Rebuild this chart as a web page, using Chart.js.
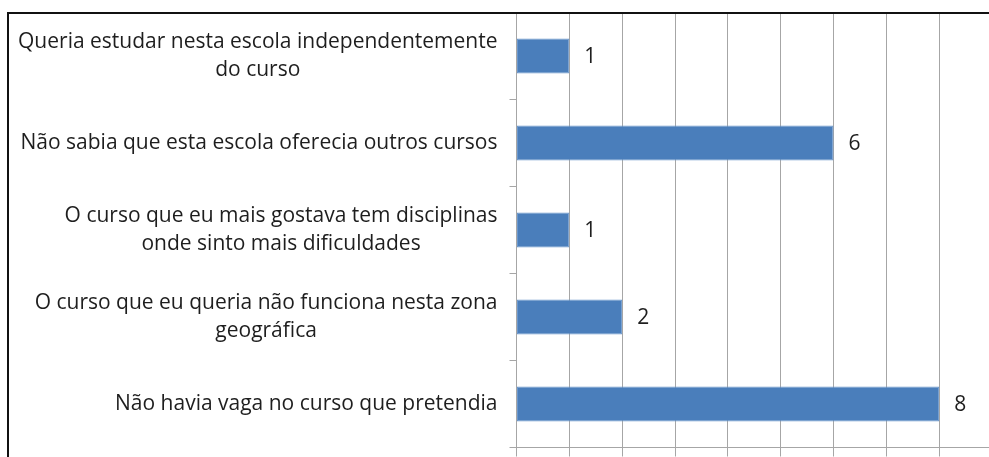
<!DOCTYPE html>
<html>
<head>
<meta charset="utf-8">
<script src="https://cdn.jsdelivr.net/npm/chart.js@4/dist/chart.umd.min.js"></script>
<style>
  html, body { margin: 0; padding: 0; background: #fff; overflow: hidden; }
  #wrap { position: relative; width: 989px; height: 457px; overflow: hidden; }
  #c { position: absolute; left: 0; top: 0; }
  #frame { position: absolute; left: 7px; top: 12px; width: 1100px; height: 600px;
           border-top: 2px solid #111; border-left: 2px solid #111; pointer-events: none; }
</style>
</head>
<body>
<div id="wrap">
  <canvas id="c" width="1000" height="470"></canvas>
  <div id="frame"></div>
</div>
<script>
// ---- data ----
const categories = [
  ["Queria estudar nesta escola independentemente", "do curso"],
  ["Não sabia que esta escola oferecia outros cursos"],
  ["O curso que eu mais gostava tem disciplinas", "onde sinto mais dificuldades"],
  ["O curso que eu queria não funciona nesta zona", "geográfica"],
  ["Não havia vaga no curso que pretendia"]
];
const values = [1, 6, 1, 2, 8];
const xMin = 0;
const xMax = 9;
const xStep = 1;

const FONT = '21px "Open Sans", Lato, sans-serif';
const TEXT = '#1e1e1e';
const GRID = '#a6a6a6';

const labelsPlugin = {
  id: 'customLabels',
  afterDraw(chart) {
    const ctx = chart.ctx;
    const yScale = chart.scales.y;
    const meta = chart.getDatasetMeta(0);
    ctx.save();
    ctx.font = FONT;
    ctx.fillStyle = TEXT;
    ctx.textBaseline = 'middle';
    // category labels: widest line right-aligned, other lines centred on it
    const rightEdge = yScale.left - 12;
    categories.forEach((lines, i) => {
      const cy = yScale.getPixelForTick(i);
      const lh = 28;
      const widths = lines.map(l => ctx.measureText(l).width);
      const widest = Math.max(...widths);
      const centre = rightEdge - widest / 2;
      ctx.textAlign = 'center';
      lines.forEach((l, k) => {
        const y = cy + (k - (lines.length - 1) / 2) * lh;
        ctx.fillText(l, centre, y);
      });
    });
    // value labels
    ctx.textAlign = 'left';
    meta.data.forEach((bar, i) => {
      ctx.fillText(String(values[i]), bar.x + 15, bar.y + 1);
    });
    ctx.restore();
  }
};

new Chart(document.getElementById('c'), {
  type: 'bar',
  data: {
    labels: categories,
    datasets: [{
      data: values,
      backgroundColor: '#4a7ebb',
      borderColor: '#6b97cc',
      borderWidth: 1,
      borderSkipped: false,
      barPercentage: 0.4,
      categoryPercentage: 1.0
    }]
  },
  options: {
    indexAxis: 'y',
    responsive: false,
    animation: false,
    devicePixelRatio: 1,
    layout: { padding: { left: 509.5, right: 8, top: 12.5, bottom: 13.5 } },
    plugins: { legend: { display: false }, tooltip: { enabled: false } },
    scales: {
      x: {
        min: xMin, max: xMax,
        ticks: { display: false, stepSize: xStep },
        grid: { color: GRID, lineWidth: 1, drawTicks: true, tickLength: 9 },
        border: { display: true, color: GRID }
      },
      y: {
        ticks: { display: false },
        grid: { offset: true, drawOnChartArea: false, drawTicks: true, tickLength: 7, color: GRID },
        border: { display: true, color: GRID }
      }
    }
  },
  plugins: [labelsPlugin]
});
</script>
</body>
</html>
